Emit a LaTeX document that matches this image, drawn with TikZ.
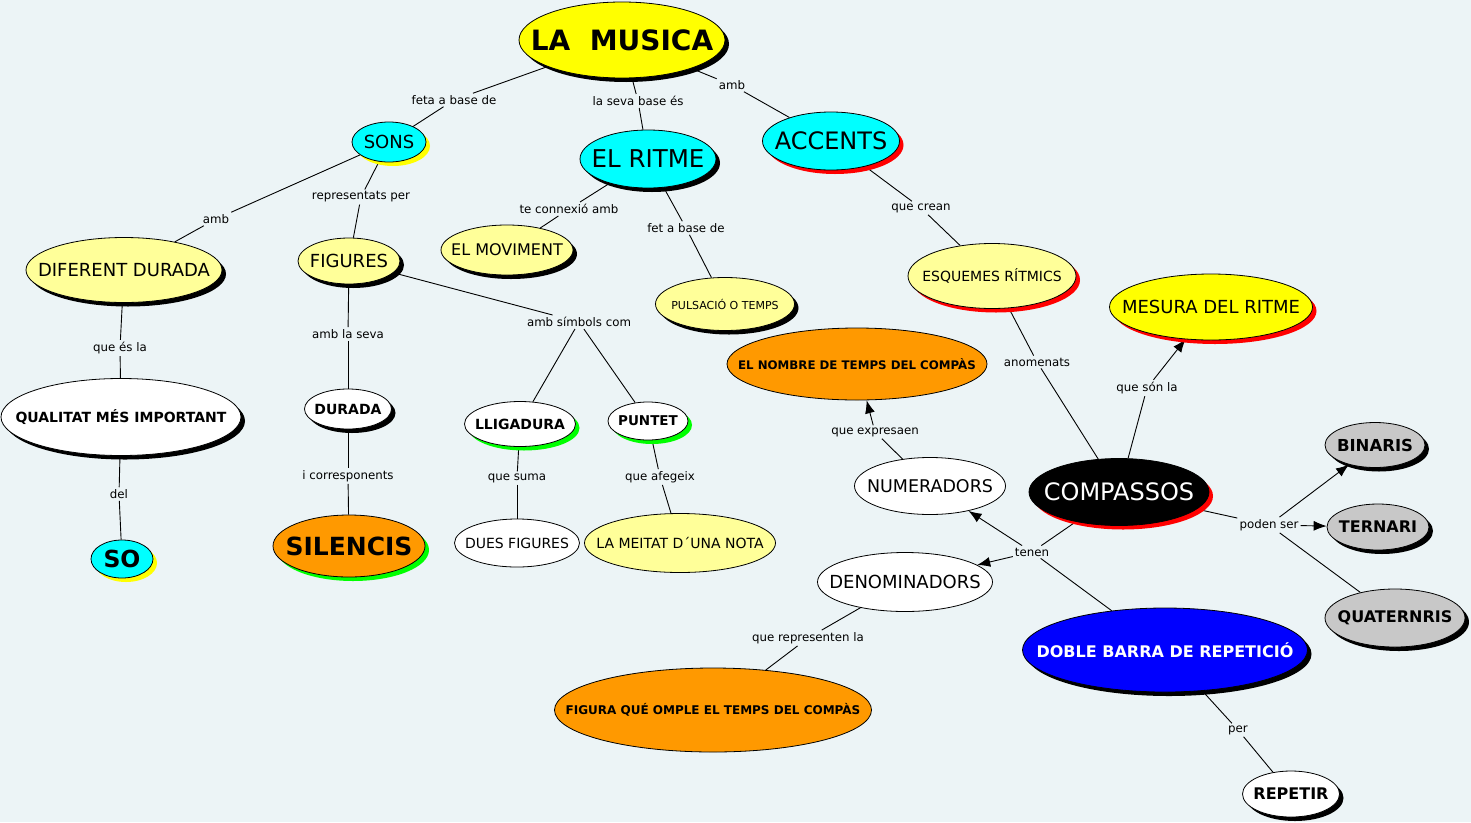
\documentclass[tikz,border=0pt]{standalone}
\usepackage{fontspec}
\setmainfont{DejaVu Sans}
\usetikzlibrary{shapes.geometric,shadows,arrows.meta,backgrounds}
\definecolor{bgc}{RGB}{236,244,246}
\definecolor{yel}{RGB}{255,255,0}
\definecolor{cyn}{RGB}{0,255,255}
\definecolor{ltyel}{RGB}{255,255,153}
\definecolor{orng}{RGB}{255,153,0}
\definecolor{gry}{RGB}{200,200,200}
\definecolor{blu}{RGB}{0,0,255}
\definecolor{grn}{RGB}{0,255,0}
\definecolor{rd}{RGB}{255,0,0}
\newcommand\myfs[1]{\fontsize{#1pt}{#1pt}\selectfont}
\newcommand\zb[1]{\makebox[0pt]{#1}}
\tikzset{
  cn/.style={ellipse, draw=black, line width=0.8pt, inner sep=0pt, text=black},
  shk/.style={drop shadow={shadow xshift=4pt,shadow yshift=-4pt,fill=black,opacity=1}},
  shr/.style={drop shadow={shadow xshift=4pt,shadow yshift=-4pt,fill=rd,opacity=1}},
  shy/.style={drop shadow={shadow xshift=4pt,shadow yshift=-4pt,fill=yel,opacity=1}},
  shg/.style={drop shadow={shadow xshift=4pt,shadow yshift=-4pt,fill=grn,opacity=1}},
  lb/.style={font=\myfs{11.8}, inner sep=2pt, text=black},
  ln/.style={draw=black, line width=0.9pt},
  ar/.style={ln, -{Latex[length=13pt,width=10pt]}}
}
\begin{document}
\begin{tikzpicture}[x=1pt,y=-1pt]
\useasboundingbox (0,0) rectangle (1471,822);
% concepts
\node[cn,fill=yel,shk,minimum width=206pt,minimum height=76pt,font=\bfseries\myfs{28}] (musica) at (622,40) {\zb{LA\ \ MUSICA}};
\node[cn,fill=cyn,shy,minimum width=74pt,minimum height=40pt,font=\myfs{18}] (sons) at (389,142) {\zb{SONS}};
\node[cn,fill=cyn,shk,minimum width=136pt,minimum height=58pt,font=\myfs{24.5}] (ritme) at (648,159) {\zb{EL RITME}};
\node[cn,fill=cyn,shr,minimum width=137pt,minimum height=58pt,font=\myfs{24}] (accents) at (831,141) {\zb{ACCENTS}};
\node[cn,fill=ltyel,shk,minimum width=196pt,minimum height=65pt,font=\myfs{18}] (diferent) at (124,270) {\zb{DIFERENT DURADA}};
\node[cn,fill=ltyel,shk,minimum width=102pt,minimum height=46pt,font=\myfs{18}] (figures) at (349,261) {\zb{FIGURES}};
\node[cn,fill=ltyel,shk,minimum width=132pt,minimum height=50pt,font=\myfs{16}] (moviment) at (507,250) {\zb{EL MOVIMENT}};
\node[cn,fill=ltyel,shk,minimum width=139pt,minimum height=53pt,font=\myfs{11}] (pulsacio) at (725,304) {\zb{PULSACIÓ O TEMPS}};
\node[cn,fill=ltyel,shr,minimum width=168pt,minimum height=65pt,font=\myfs{14}] (esquemes) at (992,276) {\zb{ESQUEMES RÍTMICS}};
\node[cn,fill=yel,shr,minimum width=203pt,minimum height=66pt,font=\myfs{18}] (mesura) at (1211,307) {\zb{MESURA DEL RITME}};
\node[cn,fill=orng,minimum width=260pt,minimum height=72pt,font=\bfseries\myfs{11.8}] (nombre) at (857,364) {\zb{EL NOMBRE DE TEMPS DEL COMPÀS}};
\node[cn,fill=white,minimum width=151pt,minimum height=57pt,font=\myfs{17.5}] (numer) at (930,486) {\zb{NUMERADORS}};
\node[cn,fill=black,text=white,shr,minimum width=180pt,minimum height=67pt,font=\myfs{24}] (compassos) at (1119,492) {\zb{COMPASSOS}};
\node[cn,fill=white,minimum width=175pt,minimum height=59pt,font=\myfs{18}] (denom) at (905,582) {\zb{DENOMINADORS}};
\node[cn,fill=blu,text=white,shk,minimum width=285pt,minimum height=84pt,font=\bfseries\myfs{16}] (doble) at (1165,650) {\zb{DOBLE BARRA DE REPETICIÓ}};
\node[cn,fill=orng,minimum width=317pt,minimum height=84pt,font=\bfseries\myfs{12}] (figura) at (713,710) {\zb{FIGURA QUÉ OMPLE EL TEMPS DEL COMPÀS}};
\node[cn,fill=white,shk,minimum width=240pt,minimum height=77pt,font=\bfseries\myfs{14}] (qualitat) at (121,417) {\zb{QUALITAT MÉS IMPORTANT}};
\node[cn,fill=cyn,shy,minimum width=62pt,minimum height=38pt,font=\bfseries\myfs{23.5}] (so) at (122,559) {\zb{SO}};
\node[cn,fill=white,shk,minimum width=87pt,minimum height=40pt,font=\bfseries\myfs{14}] (durada) at (348,409) {\zb{DURADA}};
\node[cn,fill=orng,shg,minimum width=152pt,minimum height=62pt,font=\bfseries\myfs{25}] (silencis) at (349,546) {\zb{SILENCIS}};
\node[cn,fill=white,shg,minimum width=111pt,minimum height=45pt,font=\bfseries\myfs{14}] (lligadura) at (520,424) {\zb{LLIGADURA}};
\node[cn,fill=white,shg,minimum width=80pt,minimum height=38pt,font=\bfseries\myfs{13.5}] (puntet) at (648,421) {\zb{PUNTET}};
\node[cn,fill=white,minimum width=125pt,minimum height=48pt,font=\myfs{14}] (dues) at (517,543) {\zb{DUES FIGURES}};
\node[cn,fill=ltyel,minimum width=191pt,minimum height=59pt,font=\myfs{14}] (meitat) at (680,543) {\zb{LA MEITAT D´UNA NOTA}};
\node[cn,fill=gry,shk,minimum width=100pt,minimum height=45pt,font=\bfseries\myfs{16.5}] (binaris) at (1375,445) {\zb{BINARIS}};
\node[cn,fill=gry,shk,minimum width=102pt,minimum height=46pt,font=\bfseries\myfs{16}] (ternari) at (1378,527) {\zb{TERNARI}};
\node[cn,fill=gry,shk,minimum width=140pt,minimum height=58pt,font=\bfseries\myfs{16}] (quat) at (1395,618) {\zb{QUATERNRIS}};
\node[cn,fill=white,shk,minimum width=97pt,minimum height=46pt,font=\bfseries\myfs{16}] (repetir) at (1291,794) {\zb{REPETIR}};
% link labels
\node[lb] (l1) at (454,100) {feta a base de};
\node[lb] (l2) at (638,101) {la seva base és};
\node[lb] (l3) at (732,85) {amb};
\node[lb] (l4) at (216,219) {amb};
\node[lb] (l5) at (361,197) {representats per};
\node[lb] (l6) at (569,209) {te connexió amb};
\node[lb] (l7) at (686,228) {fet a base de};
\node[lb] (l8) at (921,208) {que crean};
\node[lb] (l9) at (120,348) {que és la};
\node[lb] (l10) at (119,494) {del};
\node[lb] (l11) at (348,334) {amb la seva};
\node[lb] (l12) at (579,322) {amb símbols com};
\node[lb] (l13) at (348,476) {i corresponents};
\node[lb] (l14) at (517,478) {que suma};
\node[lb] (l15) at (660,477) {que afegeix};
\node[lb] (l16) at (1037,362) {anomenats};
\node[lb] (l17) at (1147,388) {que són la};
\node[lb] (l18) at (875,432) {que expresaen};
\node[lb] (l19) at (1032,552) {tenen};
\node[lb] (l20) at (1269,525) {poden ser};
\node[lb] (l21) at (808,638) {que representen la};
\node[lb] (l22) at (1238,730) {per};
\begin{scope}[on background layer]
\fill[bgc] (0,0) rectangle (1471,822);
\draw[ln] (musica) -- (l1); \draw[ln] (l1) -- (sons);
\draw[ln] (musica) -- (l2); \draw[ln] (l2) -- (ritme);
\draw[ln] (musica) -- (l3); \draw[ln] (l3) -- (accents);
\draw[ln] (sons) -- (l4); \draw[ln] (l4) -- (diferent);
\draw[ln] (sons) -- (l5); \draw[ln] (l5) -- (figures);
\draw[ln] (ritme) -- (l6); \draw[ln] (l6) -- (moviment);
\draw[ln] (ritme) -- (l7); \draw[ln] (l7) -- (pulsacio);
\draw[ln] (accents) -- (l8); \draw[ln] (l8) -- (esquemes);
\draw[ln] (diferent) -- (l9); \draw[ln] (l9) -- (qualitat);
\draw[ln] (qualitat) -- (l10); \draw[ln] (l10) -- (so);
\draw[ln] (figures) -- (l11); \draw[ln] (l11) -- (durada);
\draw[ln] (figures) -- (l12); \draw[ln] (l12) -- (lligadura); \draw[ln] (l12) -- (puntet);
\draw[ln] (durada) -- (l13); \draw[ln] (l13) -- (silencis);
\draw[ln] (lligadura) -- (l14); \draw[ln] (l14) -- (dues);
\draw[ln] (puntet) -- (l15); \draw[ln] (l15) -- (meitat);
\draw[ln] (esquemes) -- (l16); \draw[ln] (l16) -- (compassos);
\draw[ln] (compassos) -- (l17); \draw[ar] (l17) -- (mesura);
\draw[ln] (numer) -- (l18); \draw[ar] (l18) -- (nombre);
\draw[ln] (compassos) -- (l19); \draw[ln] (doble) -- (l19);
\draw[ar] (l19) -- (numer); \draw[ar] (l19) -- (denom);
\draw[ln] (compassos) -- (l20); \draw[ar] (l20) -- (binaris); \draw[ar] (l20) -- (ternari); \draw[ln] (l20) -- (quat);
\draw[ln] (denom) -- (l21); \draw[ln] (l21) -- (figura);
\draw[ln] (doble) -- (l22); \draw[ln] (l22) -- (repetir);
\end{scope}
\end{tikzpicture}
\end{document}
